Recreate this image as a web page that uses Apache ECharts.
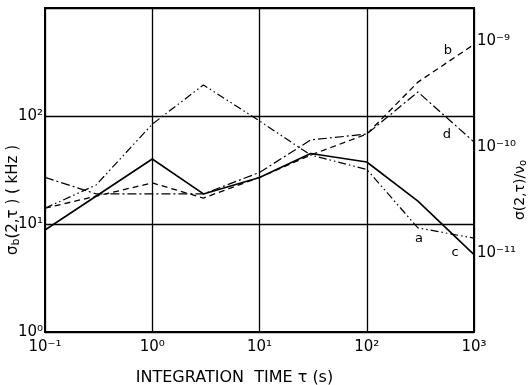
<!DOCTYPE html>
<html>
<head>
<meta charset="utf-8">
<script src="https://cdn.jsdelivr.net/npm/echarts@6/dist/echarts.min.js"></script>
<style>
  html, body { margin: 0; padding: 0; background: #fff; }
  #chart { width: 532px; height: 385px; }
</style>
</head>
<body>
<div id="chart"></div>
<script>
// integration time tau (s) and sigma_b(2,tau) in kHz
const tauA = [0.1, 0.3, 1, 3, 10, 30, 100, 300, 1000]
const valA = [14, 23, 84, 194, 90, 43.5, 32, 9.2, 7.4]
const tauB = [0.1, 1, 3, 10, 30, 100, 300, 1000]
const valB = [14, 24, 17.4, 27, 43.5, 68, 206, 460]
const tauC = [0.1, 1, 3, 10, 30, 100, 300, 1000]
const valC = [8.8, 40, 19, 27, 45, 37.5, 16.3, 5.2]
const tauD = [0.1, 0.3, 1, 3, 10, 30, 100, 300, 1000]
const valD = [27, 19, 19, 19, 30, 60, 68, 167, 57.5]
// right axis: log10 of sigma(2,tau)/nu0
const rightTicks = [-11, -10, -9]

const sup = { '-': '⁻', '0': '⁰', '1': '¹', '2': '²', '3': '³', '4': '⁴', '5': '⁵', '6': '⁶', '7': '⁷', '8': '⁸', '9': '⁹' }
function pow10 (e) {
  return '10' + String(e).split('').map(c => sup[c]).join('')
}

const FONT = 'DejaVu Sans'

// build [x, y] pairs, with a text label on one point
function pairs (taus, vals, labelAt, text, offset) {
  return taus.map((t, i) => {
    let item = { value: [t, vals[i]] }
    if (i === labelAt) {
      item.label = {
        show: true, formatter: text, position: 'inside', offset: offset,
        color: '#000', fontSize: 13, fontFamily: FONT
      }
    }
    return item
  })
}

function line (name, data, type, width) {
  return {
    name: name,
    type: 'line',
    data: data,
    symbol: 'circle',
    symbolSize: 0,
    showSymbol: true,
    silent: true,
    lineStyle: { color: '#000', width: width, type: type },
    itemStyle: { color: '#000' },
    label: { show: false },
    yAxisIndex: 0
  }
}

let myChart = echarts.init(document.getElementById('chart'))
let option = {
  backgroundColor: '#fff',
  animation: false,
  grid: {
    left: 45, right: 58, top: 8, bottom: 53,
    outerBoundsMode: 'none',
    containLabel: false,
    show: true, borderColor: '#000', borderWidth: 2
  },
  xAxis: {
    type: 'log',
    min: 0.1,
    max: 1000,
    name: 'INTEGRATION  TIME τ (s)',
    nameLocation: 'middle',
    nameGap: 38,
    nameMoveOverlap: false,
    nameTextStyle: { color: '#000', fontSize: 16, fontFamily: FONT, padding: [0, 50, 0, 0] },
    axisLine: { lineStyle: { color: '#000', width: 2 } },
    axisTick: { show: false },
    axisLabel: {
      color: '#000', fontSize: 15, fontFamily: FONT, margin: 8,
      formatter: v => pow10(Math.round(Math.log10(v)))
    },
    splitLine: { show: true, lineStyle: { color: '#000', width: 1.3 } }
  },
  yAxis: [
    {
      type: 'log',
      min: 1,
      max: 1000,
      position: 'left',
      name: '{s|σ}{b|b}{s|(2,τ ) ( kHz )}',
      nameLocation: 'middle',
      nameRotate: 90,
      nameGap: 23,
      nameMoveOverlap: false,
      nameTextStyle: {
        color: '#000', fontFamily: FONT, padding: [0, 60, 0, 0],
        rich: {
          s: { fontSize: 15, fontFamily: FONT, color: '#000' },
          b: { fontSize: 11, fontFamily: FONT, color: '#000', padding: [6, 0, 0, 0] }
        }
      },
      axisLine: { show: true, lineStyle: { color: '#000', width: 2 } },
      axisTick: { show: false },
      axisLabel: {
        color: '#000', fontSize: 15, fontFamily: FONT, margin: 2,
        formatter: v => v >= 1000 ? '' : pow10(Math.round(Math.log10(v)))
      },
      splitLine: { show: true, lineStyle: { color: '#000', width: 1.3 } }
    },
    {
      type: 'value',
      min: -11.742,
      max: -8.686,
      position: 'right',
      name: '{s|σ(2,τ)/ν}{b|o}',
      nameLocation: 'middle',
      nameRotate: 90,
      nameGap: 38,
      nameMoveOverlap: false,
      nameTextStyle: {
        color: '#000', fontFamily: FONT, padding: [0, 40, 0, 0],
        rich: {
          s: { fontSize: 14, fontFamily: FONT, color: '#000' },
          b: { fontSize: 10, fontFamily: FONT, color: '#000', padding: [6, 0, 0, 0] }
        }
      },
      axisLine: { show: true, lineStyle: { color: '#000', width: 2 } },
      axisTick: { show: false },
      axisLabel: {
        color: '#000', fontSize: 15, fontFamily: FONT, margin: 3,
        customValues: rightTicks,
        formatter: v => pow10(Math.round(v))
      },
      splitLine: { show: false }
    }
  ],
  series: [
    line('a', pairs(tauA, valA, 7, 'a', [1, 11]), [8, 3, 1.5, 3, 1.5, 3], 1.2),
    line('b', pairs(tauB, valB, 7, 'b', [-26, 6]), [6, 4], 1.3),
    line('c', pairs(tauC, valC, 7, 'c', [-19, -2]), 'solid', 1.6),
    line('d', pairs(tauD, valD, 8, 'd', [-27, -7]), [9, 3, 2, 3], 1.2)
  ]
}
myChart.setOption(option)
window.addEventListener('resize', () => { myChart.resize() })
</script>
</body>
</html>
